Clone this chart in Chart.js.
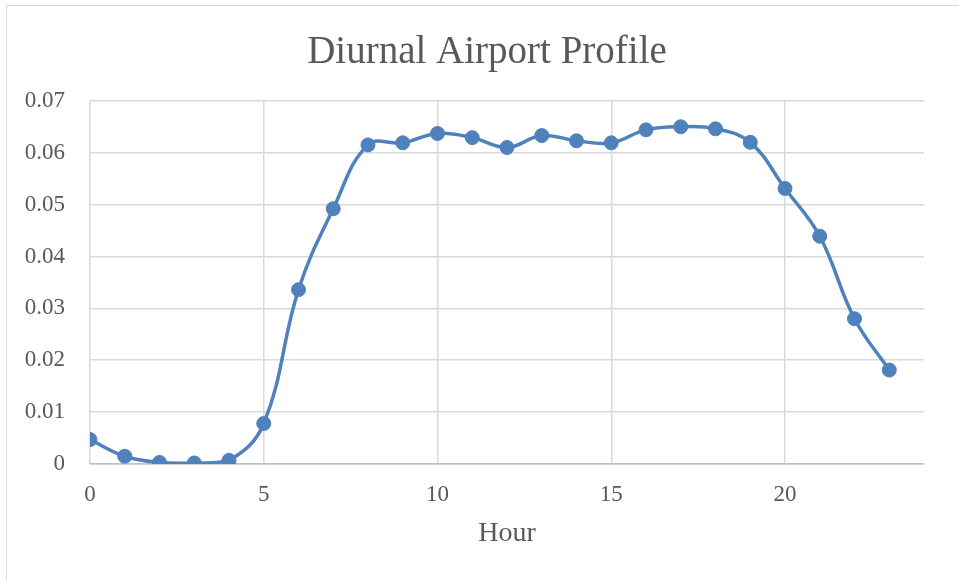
<!DOCTYPE html>
<html>
<head>
<meta charset="utf-8">
<script src="https://cdn.jsdelivr.net/npm/chart.js@4/dist/chart.umd.min.js"></script>
<style>
  body { margin: 0; background: #fff; }
  #wrap { position: relative; width: 959px; height: 580px; overflow: hidden; }
  #frame { position: absolute; left: 6px; top: 5px; width: 960px; height: 590px; border: 1px solid #d9d9d9; box-sizing: border-box; }
  canvas { position: absolute; left: 0; top: 0; }
</style>
</head>
<body>
<div id="wrap">
  <div id="frame"></div>
  <canvas id="myChart" width="959" height="580"></canvas>
</div>
<script>
// datos
const horas = [0, 1, 2, 3, 4, 5, 6, 7, 8, 9, 10, 11, 12, 13, 14, 15, 16, 17, 18, 19, 20, 21, 22, 23];
const perfil = [0.0047, 0.0015, 0.0003, 0.0002, 0.0007, 0.0078, 0.0336, 0.0492, 0.0615, 0.0619,
  0.0637, 0.0629, 0.0610, 0.0633, 0.0623, 0.0619, 0.0644, 0.0650, 0.0646, 0.0620,
  0.0531, 0.0439, 0.0280, 0.0181];
const ticksX = [0, 5, 10, 15, 20];

const azul = "#4f81bd";
const gris = "#595959";
const fuente = "'Liberation Serif', serif";

const puntos = horas.map((h, i) => ({ x: h, y: perfil[i] }));

const config = {
  type: "line",
  data: {
    datasets: [
      {
        label: "Profile",
        data: puntos,
        borderColor: azul,
        backgroundColor: azul,
        borderWidth: 3.5,
        pointRadius: 7,
        pointHoverRadius: 7,
        pointBorderWidth: 1,
        tension: 0.4
      }
    ]
  },
  options: {
    responsive: false,
    animation: false,
    layout: { padding: { left: 15, right: 0, top: 0, bottom: 0 } },
    plugins: {
      legend: { display: false },
      tooltip: { enabled: false },
      title: {
        display: true,
        text: "Diurnal Airport Profile",
        color: gris,
        font: { family: fuente, size: 39, weight: "normal" },
        padding: { top: 29, bottom: 25 }
      }
    },
    scales: {
      x: {
        type: "linear",
        min: 0,
        max: 24,
        afterBuildTicks: scale => {
          scale.ticks = ticksX.map(v => ({ value: v }));
        },
        afterFit: scale => { scale.height = 116; },
        grid: { color: "#d9d9d9", lineWidth: 1.5, drawTicks: false },
        border: { color: "#bfbfbf", width: 1.5 },
        ticks: { color: gris, font: { family: fuente, size: 23 }, padding: 17 },
        title: {
          display: true,
          text: "Hour",
          color: gris,
          font: { family: fuente, size: 28 },
          padding: { top: 0, bottom: 30 }
        }
      },
      y: {
        min: 0,
        max: 0.07,
        afterFit: scale => { scale.width = 75; },
        grid: { color: "#d9d9d9", lineWidth: 1.5, drawTicks: false },
        border: { display: false },
        ticks: {
          stepSize: 0.01,
          color: gris,
          padding: 25,
          font: { family: fuente, size: 23 },
          callback: v => (Math.round(v * 100) / 100).toString()
        }
      },
      // eje vacio a la derecha, solo para dejar el margen
      margen: {
        position: "right",
        min: 0,
        max: 1,
        afterFit: scale => { scale.width = 35; },
        grid: { display: false },
        border: { display: false },
        ticks: { display: false }
      }
    }
  }
};

const ctx = document.getElementById("myChart");
new Chart(ctx, config);
</script>
</body>
</html>
